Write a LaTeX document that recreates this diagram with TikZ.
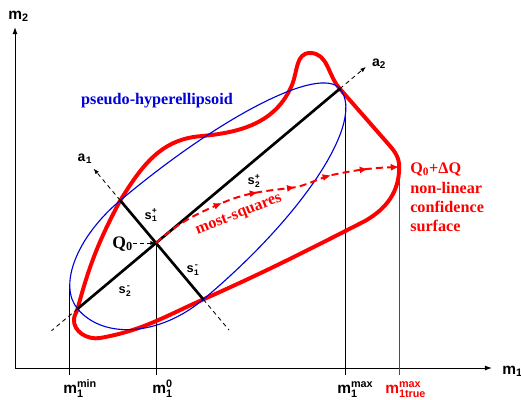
\documentclass[tikz,border=0pt]{standalone}
\usepackage{amsmath}
\usepackage{fontspec}
\setmainfont{Liberation Serif}
\setsansfont{Liberation Sans}
\setmonofont{Liberation Mono}
\usetikzlibrary{arrows.meta,decorations.markings}

\begin{document}
\begin{tikzpicture}[
  axisline/.style={line width=0.7pt,-{Latex[length=5pt,width=3.5pt]}},
  guideline/.style={line width=0.6pt,dash pattern=on 3pt off 2.5pt},
  semiaxis/.style={line width=1.9pt},
  dropline/.style={line width=0.7pt},
  boldserif/.style={font=\fontsize{11.5}{13.5}\selectfont\bfseries},
  mlab/.style={font=\fontsize{11}{13}\selectfont\sffamily\bfseries,inner sep=0pt,anchor=base west},
  slab/.style={font=\fontsize{9}{10}\selectfont\ttfamily\bfseries,inner sep=0pt}]
\useasboundingbox (0,0) rectangle (13.025,9.975);

% axes
\coordinate (O) at (0.375,0.775);
\draw[axisline] (O) -- (12.3,0.775) coordinate (xend);
\draw[axisline] (O) -- (0.375,9.3) coordinate (yend);
\node[mlab] (m1) at (12.55,0.625) {$\text{m}_{\text{1}}$};
\node[mlab] (m2) at (0.2,9.49) {$\text{m}_{\text{2}}$};

% centre and ends of the semi-axes
\coordinate (Q0) at (3.9,3.9);
\path (Q0) ++(40:6) coordinate (s2p) ++(40:0.85) coordinate (a2tip);
\path (Q0) ++(220:2.56) coordinate (s2m) ++(220:0.85) coordinate (a2tail);
\path (Q0) ++(130:1.39) coordinate (s1p) ++(130:1.04) coordinate (a1tip);
\path (Q0) ++(310:1.84) coordinate (s1m) ++(310:1.0) coordinate (a1tail);

% drop lines to the m1 axis
\coordinate (qend) at (9.98,5.8);
\draw[dropline] (1.745,2.84) -- (1.745,0.6) coordinate (tmin);
\draw[dropline] (Q0) -- (Q0 |- tmin) coordinate (tzero);
\draw[dropline] (8.646,7.29) -- (8.646,0.6) coordinate (tmax);
\draw[dropline,red] (9.985,5.75) -- (9.985,0.6) coordinate (ttrue);

% non-linear confidence surface
\draw[red,line width=2.8pt,line join=round] (s2p) -- (9.72,6.36) to[out=-49,in=90] (qend)
  to[out=-90,in=30] (9.125,4.45) to[out=207,in=24] (s1m)
  to[out=204,in=10] (2.5,1.525) to[out=190,in=-95] (1.85,2.0)
  to[out=85,in=255] (s2m) to[out=75,in=242] (s1p)
  to[out=58,in=185] (5.0,6.57) to[out=5,in=247] (7.3,7.85)
  to[out=67,in=180] (7.75,8.65) to[out=0,in=132] (s2p) -- cycle;

% pseudo-hyperellipsoid, one quarter per semi-axis pair
\begin{scope}[shift={(Q0)},rotate=40]
\draw[blue!85!black,line width=0.8pt] (6,0)
  arc[start angle=0,end angle=90,x radius=6,y radius=1.39]
  arc[start angle=90,end angle=180,x radius=2.56,y radius=1.39]
  arc[start angle=180,end angle=270,x radius=2.56,y radius=1.84]
  arc[start angle=270,end angle=360,x radius=6,y radius=1.84] -- cycle;
\end{scope}

% semi-axes and their directions
\draw[semiaxis] (s2m) -- (s2p);
\draw[semiaxis] (s1p) -- (s1m);
\draw[guideline,-{Latex[length=4pt,width=3pt]}] (s2p) -- (a2tip);
\draw[guideline] (s2m) -- (a2tail);
\draw[guideline,-{Latex[length=4pt,width=3pt]}] (s1p) -- (a1tip);
\draw[guideline] (s1m) -- (a1tail);
\node[font=\fontsize{10}{12}\selectfont\ttfamily\bfseries] (a1) at (2.125,6.0) {$\text{a}_{\text{1}}$};
\node[font=\fontsize{10}{12}\selectfont\sffamily\bfseries] (a2) at (9.475,8.375) {$\text{a}_{\text{2}}$};
\node[slab] (l2p) at (6.35,5.45) {$\text{s}_{\text{2}}^{\text{+}}$};
\node[slab] (l1p) at (3.775,4.6) {$\text{s}_{\text{1}}^{\text{+}}$};
\node[slab] (l1m) at (4.825,3.225) {$\text{s}_{\text{1}}^{\text{-}}$};
\node[slab] (l2m) at (3.125,2.7) {$\text{s}_{\text{2}}^{\text{-}}$};

% most-squares path
\draw[red,line width=1.4pt,dash pattern=on 5pt off 3pt,-{Latex[length=6pt,width=5pt]},
  postaction={decorate},
  decoration={markings,mark=between positions 0.3 and 0.9 step 0.145 with {\arrow{Latex[length=6pt,width=5pt]}}}]
  (Q0) to[out=42,in=203] (5.55,4.9) to[out=23,in=188] (7.425,5.3)
  to[out=15,in=195] (8.3,5.6) to[out=12,in=182] (qend);
\node[boldserif,red,rotate=21.7] (msq) at (5.975,4.6) {most-squares};

% labels
\node[font=\fontsize{12.5}{14}\selectfont\bfseries,inner sep=0pt,anchor=base east] (q0lab) at (3.33,3.775) {Q\textsubscript{0}};
\draw[line width=0.7pt,dash pattern=on 3pt off 2pt,-{Latex[length=4pt,width=3pt]}] (q0lab.east |- Q0) -- (Q0);
\node[boldserif,blue!85!black] (pseudo) at (3.925,7.45) {pseudo-hyperellipsoid};
\node[boldserif,red,inner sep=0pt,anchor=base west] (qdq) at (10.25,5.65) {Q\textsubscript{0}+ΔQ};
\node[boldserif,red,inner sep=0pt,anchor=north west,align=left] (nlcs) at (10.25,5.42) {non-linear\\confidence\\surface};
\node[mlab] (mmin) at (1.575,0.15) {$\text{m}_{\text{1}}^{\text{min}}$};
\node[mlab] (mzero) at (3.8,0.15) {$\text{m}_{\text{1}}^{\text{0}}$};
\node[mlab] (mmax) at (8.425,0.15) {$\text{m}_{\text{1}}^{\text{max}}$};
\node[mlab,red] (mtrue) at (9.625,0.15) {$\text{m}_{\text{1true}}^{\text{max}}$};
\end{tikzpicture}
\end{document}
